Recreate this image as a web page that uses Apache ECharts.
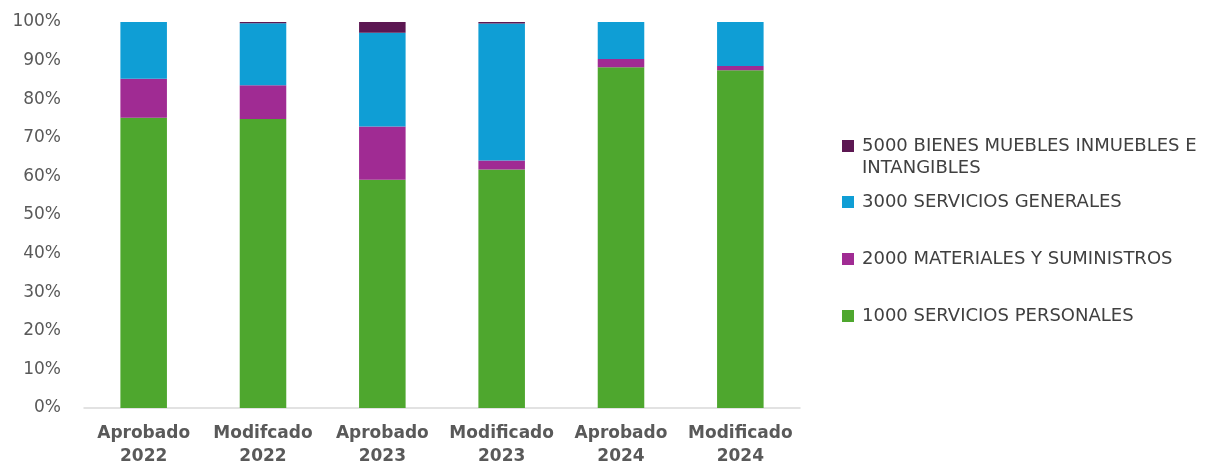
<!DOCTYPE html>
<html>
<head>
<meta charset="utf-8">
<script src="https://cdn.jsdelivr.net/npm/echarts@6/dist/echarts.min.js"></script>
<style>html,body{margin:0;padding:0;background:#fff;overflow:hidden}#c{width:1220px;height:468px}</style>
</head>
<body>
<div id="c"></div>
<script>
var categories = ['Aprobado\n2022', 'Modifcado\n2022', 'Aprobado\n2023', 'Modificado\n2023', 'Aprobado\n2024', 'Modificado\n2024'];
var seriesNames = ['1000 SERVICIOS PERSONALES', '2000 MATERIALES Y SUMINISTROS', '3000 SERVICIOS GENERALES', '5000 BIENES MUEBLES INMUEBLES E INTANGIBLES'];
var s1000 = [75.2, 74.9, 59.1, 61.8, 88.3, 87.5];
var s2000 = [10.1, 8.7, 13.8, 2.3, 2.1, 1.1];
var s3000 = [14.7, 16.1, 24.3, 35.5, 9.6, 11.4];
var s5000 = [0, 0.3, 2.8, 0.4, 0, 0];
var yTicks = [0, 10, 20, 30, 40, 50, 60, 70, 80, 90, 100];

var colors = ['#4EA72E', '#A02B93', '#0F9ED5', '#5C1752'];
var values = [s1000, s2000, s3000, s5000];
var font = '"DejaVu Sans", Verdana, sans-serif';

var chart = echarts.init(document.getElementById('c'), null, {renderer: 'canvas'});

function legendFor(idx, top, extra) {
  return Object.assign({
    data: [seriesNames[idx]],
    left: 842,
    top: top,
    padding: 0,
    orient: 'vertical',
    itemWidth: 12,
    itemHeight: 12,
    itemGap: 0,
    icon: 'rect',
    selectedMode: false,
    textStyle: {fontFamily: font, fontSize: 18, color: '#404040', lineHeight: 22, padding: [0, 0, 0, 3]}
  }, extra || {});
}

var option = {
  animation: false,
  color: colors,
  grid: {left: 84, right: 420, top: 22, bottom: 55, containLabel: false},
  legend: [
    legendFor(3, 113, {
      formatter: function (n) { return '\n5000 BIENES MUEBLES INMUEBLES E\nINTANGIBLES'; }
    }),
    legendFor(2, 191),
    legendFor(1, 248),
    legendFor(0, 305)
  ],
  xAxis: {
    type: 'category',
    data: categories,
    axisLine: {lineStyle: {color: '#D9D9D9', width: 1.5}},
    axisTick: {show: false},
    axisLabel: {fontFamily: font, fontSize: 17, fontWeight: 'bold', color: '#595959', lineHeight: 23, margin: 14, interval: 0}
  },
  yAxis: {
    type: 'value',
    min: 0,
    max: 100,
    interval: 10,
    splitLine: {show: false},
    axisLine: {show: false},
    axisTick: {show: false},
    axisLabel: {fontFamily: font, fontSize: 17, color: '#595959', margin: 23,
      formatter: function (v) { return yTicks.indexOf(v) >= 0 ? v + '%' : ''; }}
  },
  series: values.map(function (arr, i) {
    return {
      name: seriesNames[i],
      type: 'bar',
      stack: 'total',
      barWidth: '39%',
      data: arr,
      itemStyle: {color: colors[i]}
    };
  })
};
chart.setOption(option);
</script>
</body>
</html>
